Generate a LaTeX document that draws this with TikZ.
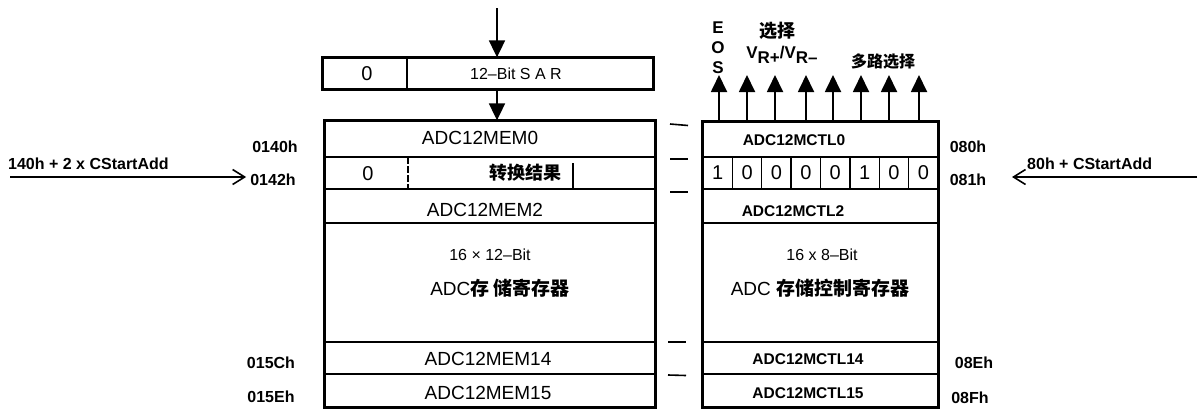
\documentclass[tikz,border=0pt]{standalone}
\usepackage{fontspec}
\setmainfont{Liberation Sans}
\newfontfamily\cjk{Noto Sans CJK SC}
\usetikzlibrary{arrows.meta}
\begin{document}
\begin{tikzpicture}[x=1pt,y=-1pt,
  rowbox/.style={draw, line width=1.3pt, inner sep=0pt, minimum width=#1},
  frame/.style={line width=1.8pt},
  txt/.style={inner sep=0pt, font=\fontsize{19}{19}\selectfont},
  ctl/.style={inner sep=0pt, font=\bfseries\fontsize{15.5}{15.5}\selectfont},
  mid/.style={inner sep=0pt, font=\fontsize{16}{16}\selectfont},
  cn/.style={inner sep=0pt, font=\cjk\bfseries\fontsize{18}{18}\selectfont},
  addr/.style={inner sep=0pt, font=\bfseries\fontsize{16}{16}\selectfont},
  digit/.style={inner sep=0pt, font=\fontsize{20}{20}\selectfont},
  bigarrow/.style={-{Triangle[width=16pt,length=17pt]}, line width=1.8pt},
  addrarrow/.style={-{Straight Barb[length=12pt,width=15pt,line width=1.6pt]}, line width=1.6pt},
  tick/.style={line width=1.6pt},
]
\useasboundingbox (0,0) rectangle (1198,410);

% ---------- SAR register ----------
\node[rowbox=84pt, minimum height=31pt] (sar0) at (365,73.5) {};
\node[rowbox=246pt, minimum height=31pt] (sar1) at (530,73.5) {};
\draw[frame] (sar0.north west) rectangle (sar1.south east);
\node[digit] (sarzero) at (367,74) {0};
\node[mid] (sartext) at (516,74) {12–Bit S A R};

% ---------- left block: conversion memory ----------
\node[rowbox=330pt, minimum height=36pt] (mem0) at (490,139) {};
\node[rowbox=330pt, minimum height=32pt] (mem1) at (490,173) {};
\node[rowbox=330pt, minimum height=34pt] (mem2) at (490,206) {};
\node[rowbox=330pt, minimum height=119pt] (memmid) at (490,282.5) {};
\node[rowbox=330pt, minimum height=32pt] (mem14) at (490,358) {};
\node[rowbox=330pt, minimum height=33pt] (mem15) at (490,390.5) {};
\draw[frame] (mem0.north west) rectangle (mem15.south east);

\node[txt] (t0) at (480,138) {ADC12MEM0};
\node[digit] (m1zero) at (368,174) {0};
\draw[line width=1.3pt, dash pattern=on 7pt off 2pt] (408,157) -- (408,189);
\draw[line width=1.2pt] (573,163) -- (573,189);
\node[cn] (t1) at (525,173) {转换结果};
\node[txt] (t2) at (485,210) {ADC12MEM2};
\node[mid] (tsize) at (490,255) {16 × 12–Bit};
\node[txt] (tname) at (500,288) {ADC{\cjk\bfseries 存 储寄存器}};
\node[txt] (t14) at (488,359) {ADC12MEM14};
\node[txt] (t15) at (488,393) {ADC12MEM15};

% ---------- right block: control registers ----------
\node[rowbox=235pt, minimum height=35pt] (ctl0) at (820.5,139.5) {};
\foreach \i in {1,...,8} {
  \node[rowbox=29.375pt, minimum height=32pt] (b\i) at ({703+29.375*(\i-0.5)},173) {};
}
\node[rowbox=235pt, minimum height=34pt] (ctl2) at (820.5,206) {};
\node[rowbox=235pt, minimum height=119pt] (ctlmid) at (820.5,282.5) {};
\node[rowbox=235pt, minimum height=32pt] (ctl14) at (820.5,358) {};
\node[rowbox=235pt, minimum height=33pt] (ctl15) at (820.5,390.5) {};
\draw[frame] (ctl0.north west) rectangle (ctl15.south east);

\node[ctl] (c0) at (794,140) {ADC12MCTL0};
\foreach \i/\v in {1/1,2/0,3/0,4/0,5/0,6/1,7/0,8/0} {
  \node[digit] (d\i) at (b\i.center) {\v};
}
\node[ctl] (c2) at (793,211) {ADC12MCTL2};
\node[mid] (csize) at (822,255) {16 x 8–Bit};
\node[txt] (cname) at (820,288) {ADC {\cjk\bfseries 存储控制寄存器}};
\node[ctl] (c14) at (808,359) {ADC12MCTL14};
\node[ctl] (c15) at (808,393) {ADC12MCTL15};

% ---------- arrows into SAR and memory ----------
\coordinate (topin) at (497,8);
\draw[bigarrow] (topin) -- (topin |- sar1.north);
\coordinate (sarout) at (497,89);
\draw[bigarrow] (sarout) -- (sarout |- mem0.north);

% ---------- output arrows of control bits ----------
\foreach \i/\x in {1/719,2/747,3/775,4/806,5/833,6/861,7/889,8/919} {
  \coordinate (up\i) at (\x,75);
  \draw[bigarrow] (up\i |- ctl0.north) -- (up\i);
}
\node[inner sep=0pt, align=center, font=\bfseries\fontsize{17}{20}\selectfont] (eos) at (718,48) {E\\O\\S};
\node[cn] (sel) at (777,31) {选择};
\node[inner sep=0pt, font=\bfseries\fontsize{17}{17}\selectfont] (vref) at (782,55) {V\raisebox{-5pt}{R+}/V\raisebox{-5pt}{R–}};
\node[cn, font=\cjk\bfseries\fontsize{16}{16}\selectfont] (mux) at (883,62) {多路选择};

% ---------- address labels ----------
\node[addr] (a140) at (275,147) {0140h};
\node[addr] (a142) at (273,180) {0142h};
\node[addr] (a15c) at (271,363) {015Ch};
\node[addr] (a15e) at (271,397) {015Eh};
\node[addr] (a080) at (968,147) {080h};
\node[addr] (a081) at (968,180) {081h};
\node[addr] (a08e) at (974,363) {08Eh};
\node[addr] (a08f) at (970,398) {08Fh};

% ---------- start address pointers ----------
\node[addr, anchor=base west] (lptr) at (8,169) {140h + 2 x CStartAdd};
\coordinate (lstart) at (10,177);
\draw[addrarrow] (lstart) -- ([xshift=-4pt]a142.west |- lstart);
\node[addr, anchor=base west] (rptr) at (1027,169) {80h + CStartAdd};
\coordinate (rstart) at (1197,177);
\coordinate (rtip) at (1012,177);
\draw[addrarrow] (rstart) -- (rtip);

% ---------- small marks between the blocks ----------
\draw[tick] (670,124) -- (688,125.5);
\draw[tick] (670,159) -- (688,159);
\draw[tick] (670,192) -- (688,192);
\draw[tick] (668,342) -- (686,342);
\draw[tick] (668,375) -- (686,375.5);
\end{tikzpicture}
\end{document}
